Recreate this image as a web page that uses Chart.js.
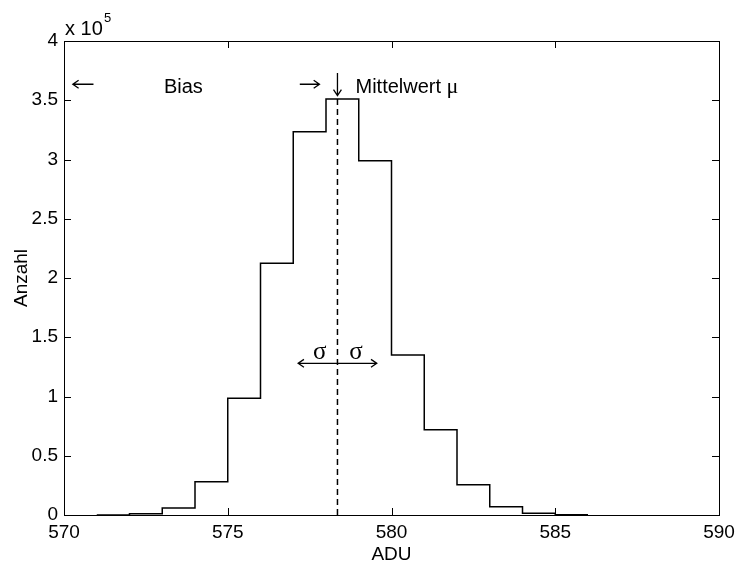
<!DOCTYPE html>
<html>
<head>
<meta charset="utf-8">
<script src="https://cdn.jsdelivr.net/npm/chart.js@4.4.1/dist/chart.umd.min.js"></script>
<style>
  html, body { margin: 0; padding: 0; background: #fff; }
  #wrap { width: 737px; height: 561px; }
</style>
</head>
<body>
<div id="wrap"><canvas id="chart" width="737" height="561"></canvas></div>
<script>
// histogram bins (left edge, ADU) and counts
const binEdges = [571, 572, 573, 574, 575, 576, 577, 578, 579, 580, 581, 582, 583, 584, 585]
const binCounts = [100, 1000, 6000, 28000, 98500, 212500, 323500, 351000, 299000, 135000, 72000, 25500, 7000, 1500, 200]
const meanValue = 578.35
const sigmaValue = 1.2
const xTicks = [570, 575, 580, 585, 590]
const yTicks = [0, 50000, 100000, 150000, 200000, 250000, 300000, 350000, 400000]

const font = 'Liberation Sans, Arial, Helvetica, sans-serif'

// stairs: each bin holds its value until the next edge
const stairs = binEdges.map((x, i) => ({ x: x, y: binCounts[i] }))
stairs.push({ x: binEdges[binEdges.length - 1] + 1, y: binCounts[binCounts.length - 1] })

const peak = Math.max(...binCounts)

// thin arrow from (x0,y0) to (x1,y1) with an open head
function arrow (ctx, x0, y0, x1, y1, head) {
  const ang = Math.atan2(y1 - y0, x1 - x0)
  ctx.beginPath()
  ctx.moveTo(x0, y0); ctx.lineTo(x1, y1)
  ctx.moveTo(x1 - head * Math.cos(ang - 0.6), y1 - head * Math.sin(ang - 0.6))
  ctx.lineTo(x1, y1)
  ctx.lineTo(x1 - head * Math.cos(ang + 0.6), y1 - head * Math.sin(ang + 0.6))
  ctx.stroke()
}

const framePlugin = {
  id: 'frame',
  afterDatasetsDraw (chart) {
    const { ctx, chartArea: a, scales: { x, y } } = chart
    ctx.save()
    // mean line
    ctx.strokeStyle = '#000'
    ctx.lineWidth = 1.5
    ctx.setLineDash([6, 4])
    ctx.beginPath()
    ctx.moveTo(x.getPixelForValue(meanValue), y.getPixelForValue(peak))
    ctx.lineTo(x.getPixelForValue(meanValue), y.getPixelForValue(0))
    ctx.stroke()
    ctx.setLineDash([])

    // box and inward ticks
    ctx.lineWidth = 1
    ctx.strokeRect(a.left + 0.5, a.top + 0.5, a.right - a.left, a.bottom - a.top)
    const tl = 7
    ctx.beginPath()
    xTicks.forEach(v => {
      const px = Math.round(x.getPixelForValue(v)) + 0.5
      ctx.moveTo(px, a.bottom); ctx.lineTo(px, a.bottom - tl)
      ctx.moveTo(px, a.top); ctx.lineTo(px, a.top + tl)
    })
    yTicks.forEach(v => {
      const py = Math.round(y.getPixelForValue(v)) + 0.5
      ctx.moveTo(a.left, py); ctx.lineTo(a.left + tl, py)
      ctx.moveTo(a.right, py); ctx.lineTo(a.right - tl, py)
    })
    ctx.stroke()

    // exponent label
    ctx.fillStyle = '#000'
    ctx.textBaseline = 'alphabetic'
    ctx.textAlign = 'left'
    ctx.font = '20px ' + font
    ctx.fillText('x 10', a.left + 1, a.top - 6)
    ctx.font = '13px ' + font
    ctx.fillText('5', a.left + 40, a.top - 19)

    // annotations
    const by = y.getPixelForValue(356000)
    const ay0 = y.getPixelForValue(363500)
    ctx.lineWidth = 1.3
    arrow(ctx, x.getPixelForValue(570.9), ay0, x.getPixelForValue(570.27), ay0, 7)
    arrow(ctx, x.getPixelForValue(577.2), ay0, x.getPixelForValue(577.8), ay0, 7)
    const mx = x.getPixelForValue(meanValue)
    arrow(ctx, mx, y.getPixelForValue(373000), mx, y.getPixelForValue(354000), 7)
    ctx.font = '20px ' + font
    ctx.fillText('Bias', x.getPixelForValue(573.05), by)
    ctx.fillText('Mittelwert', x.getPixelForValue(578.9), by)
    const mw = ctx.measureText('Mittelwert ').width
    ctx.font = '22px Liberation Serif, Times New Roman, serif'
    ctx.fillText('μ', x.getPixelForValue(578.9) + mw, by)

    // sigma arrows
    const sy = y.getPixelForValue(128000)
    const lx = x.getPixelForValue(meanValue - sigmaValue)
    const rx = x.getPixelForValue(meanValue + sigmaValue)
    arrow(ctx, mx, sy, lx, sy, 7)
    arrow(ctx, mx, sy, rx, sy, 7)
    ctx.textAlign = 'center'
    ctx.font = '25px Liberation Serif, Times New Roman, serif'
    ctx.fillText('σ', (lx + mx) / 2 + 2, sy - 4)
    ctx.fillText('σ', (rx + mx) / 2 - 1, sy - 4)
    ctx.restore()
  }
}

// eslint-disable-next-line no-unused-vars, no-undef
const chart = new Chart(document.querySelector('#chart'), {
  type: 'line',
  data: {
    datasets: [{
      data: stairs,
      stepped: 'before',
      borderColor: '#000',
      borderWidth: 1.5,
      pointRadius: 0,
      fill: false
    }]
  },
  options: {
    responsive: false,
    animation: false,
    layout: { padding: { top: 41, right: 18, left: 0, bottom: 0 } },
    plugins: {
      legend: { display: false },
      tooltip: { enabled: false }
    },
    scales: {
      x: {
        type: 'linear',
        min: 570,
        max: 590,
        afterBuildTicks: scale => { scale.ticks = xTicks.map(v => ({ value: v })) },
        afterFit: scale => { scale.height = 46 },
        grid: { display: false },
        border: { display: false },
        ticks: { color: '#000', font: { family: font, size: 19 }, padding: -2, maxRotation: 0 },
        title: { display: true, text: 'ADU', color: '#000', font: { family: font, size: 19 }, padding: { top: 0, bottom: -5 } }
      },
      y: {
        min: 0,
        max: 400000,
        afterBuildTicks: scale => { scale.ticks = yTicks.map(v => ({ value: v })) },
        afterFit: scale => { scale.width = 64 },
        grid: { display: false },
        border: { display: false },
        ticks: { color: '#000', font: { family: font, size: 19 }, padding: -2, callback: v => String(v / 100000) },
        title: { display: true, text: 'Anzahl', color: '#000', font: { family: font, size: 19 }, padding: { top: 10, bottom: 0 } }
      }
    }
  },
  plugins: [framePlugin]
})
</script>
</body>
</html>
